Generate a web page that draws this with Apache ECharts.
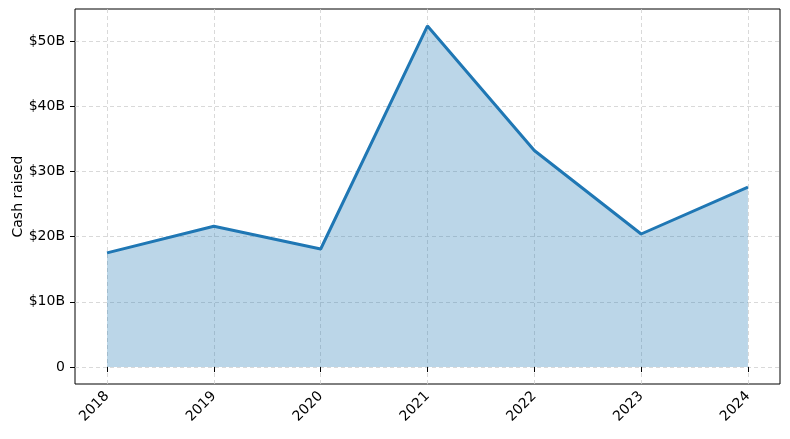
<!DOCTYPE html>
<html><head><meta charset="utf-8">
<script src="https://cdn.jsdelivr.net/npm/echarts@6/dist/echarts.min.js"></script>
<style>html,body{margin:0;padding:0;background:#fff}#c{width:790px;height:439px}</style>
</head><body><div id="c"></div>
<script>
const years = [2018, 2019, 2020, 2021, 2022, 2023, 2024];
const cashRaised = [17.5, 21.6, 18.1, 52.3, 33.2, 20.4, 27.6];
const yTicks = [0, 10, 20, 30, 40, 50];

const chart = echarts.init(document.getElementById('c'));
const font = 'DejaVu Sans';
chart.setOption({
  animation: false,
  grid: { left: 75, right: 10, top: 9, bottom: 55, show: true, borderColor: '#000', borderWidth: 1, backgroundColor: 'transparent', containLabel: false, outerBoundsMode: 'none' },
  xAxis: {
    type: 'value', min: 2017.7, max: 2024.3,
    axisLine: { show: false },
    axisTick: { show: true, length: 5, lineStyle: { color: '#000' }, customValues: years },
    axisLabel: { customValues: years, rotate: 45, color: '#000', fontFamily: font, fontSize: 14, margin: 10, formatter: v => String(v) },
    splitLine: { show: true, lineStyle: { color: '#cfcfcf', type: [4, 3], width: 0.8 } }
  },
  yAxis: {
    type: 'value', min: -2.6, max: 54.9,
    name: 'Cash raised', nameLocation: 'middle', nameGap: 50, nameRotate: 90, nameMoveOverlap: false,
    nameTextStyle: { color: '#000', fontFamily: font, fontSize: 14 },
    axisLine: { show: false },
    axisTick: { show: true, length: 5, lineStyle: { color: '#000' }, customValues: yTicks },
    axisLabel: { customValues: yTicks, color: '#000', fontFamily: font, fontSize: 14, margin: 10, formatter: v => v === 0 ? '0' : '$' + v + 'B' },
    splitLine: { show: true, lineStyle: { color: '#cfcfcf', type: [4, 3], width: 0.8 } }
  },
  series: [{
    type: 'line',
    data: years.map((y, i) => [y, cashRaised[i]]),
    symbol: 'none',
    lineStyle: { color: '#1f77b4', width: 3 },
    areaStyle: { color: 'rgba(31,119,180,0.3)', opacity: 1, origin: 0 },
    z: 3
  }]
});
</script></body></html>
